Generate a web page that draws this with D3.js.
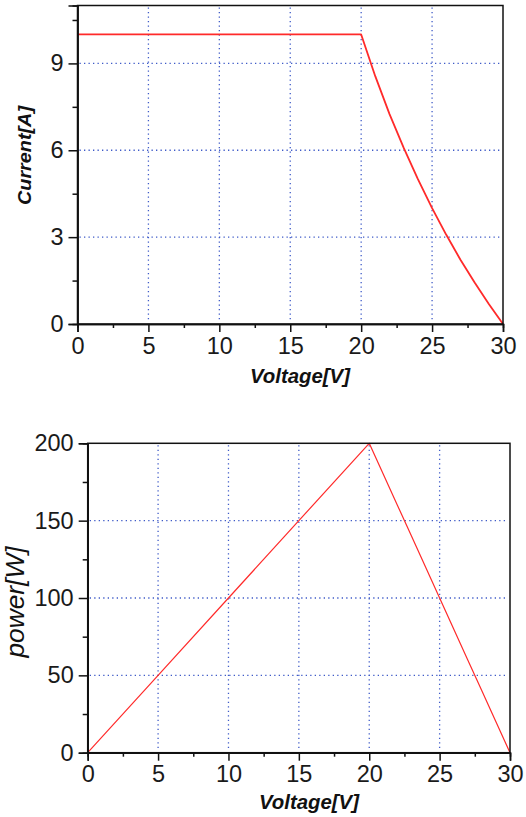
<!DOCTYPE html>
<html><head><meta charset="utf-8">
<script src="https://cdn.jsdelivr.net/npm/d3@7"></script>
<style>
html,body{margin:0;padding:0;background:#fff;}
svg{display:block;}
text{font-family:Arial,"Liberation Sans",sans-serif;}
</style></head>
<body>
<script>
// ---- data ----
const voltage = [0, 5, 10, 15, 20, 21, 22, 23, 24, 25, 26, 27, 28, 29, 30];
const current = [10, 10, 10, 10, 10, 8.55, 7.25, 6.08, 5.0, 4.0, 3.08, 2.22, 1.43, 0.69, 0];
const power   = [0, 50, 100, 150, 200, 180, 160, 140, 120, 100, 80, 60, 40, 20, 0];

const xTicks = [0, 5, 10, 15, 20, 25, 30];
const xMinor = [2.5, 7.5, 12.5, 17.5, 22.5, 27.5];
const currentTicks = [0, 3, 6, 9];
const currentMinor = [1.5, 4.5, 7.5, 10.5];
const powerTicks = [0, 50, 100, 150, 200];
const powerMinor = [25, 75, 125, 175];

const W = 526, H = 817;
const svg = d3.select("body").append("svg").attr("width", W).attr("height", H);

function panel(cfg) {
  const x = d3.scaleLinear().domain([0, 30]).range([cfg.left, cfg.right]);
  const y = d3.scaleLinear().domain(cfg.yDomain).range([cfg.bottom, cfg.top]);
  const g = svg.append("g");

  // grid
  const grid = g.append("g").attr("stroke", "#3f5bc8").attr("stroke-width", 1.3)
    .attr("stroke-dasharray", "1.3,3.2").attr("fill", "none");
  grid.selectAll("line.v").data(xTicks.filter(d => d > 0 && d < 30)).join("line")
    .attr("x1", d => x(d)).attr("x2", d => x(d))
    .attr("y1", y(cfg.yDomain[1]) + 2).attr("y2", y(0) - 2);
  grid.selectAll("line.h").data(cfg.yTicks.filter(d => d > 0 && d < cfg.yDomain[1])).join("line")
    .attr("class","h")
    .attr("x1", x(0) + 2).attr("x2", x(30) - 2)
    .attr("y1", d => y(d)).attr("y2", d => y(d));

  // line
  const line = d3.line().x((d, i) => x(voltage[i])).y(d => y(d));
  g.append("path").datum(cfg.values).attr("d", line)
    .attr("fill", "none").attr("stroke", "#ff2a2a").attr("stroke-width", cfg.lw)
    .attr("stroke-linejoin", "round");

  // frame
  g.append("rect").attr("x", x(0)).attr("y", y(cfg.yDomain[1]))
    .attr("width", x(30) - x(0)).attr("height", y(0) - y(cfg.yDomain[1]))
    .attr("fill", "none").attr("stroke", "#111").attr("stroke-width", 1.5);

  // axes
  g.append("g").attr("transform", `translate(0,${y(0)})`)
    .call(d3.axisBottom(x).tickValues(xTicks).tickSize(8).tickPadding(5).tickFormat(d3.format("d")));
  g.append("g").attr("transform", `translate(0,${y(0)})`)
    .call(d3.axisBottom(x).tickValues(xMinor).tickSize(4).tickFormat(""));
  g.append("g").attr("transform", `translate(${x(0)},0)`)
    .call(d3.axisLeft(y).tickValues(cfg.yTicks).tickSize(9).tickPadding(5).tickFormat(d3.format("d")));
  g.append("g").attr("transform", `translate(${x(0)},0)`)
    .call(d3.axisLeft(y).tickValues(cfg.yMinor).tickSize(5).tickFormat(""));
  g.selectAll(".domain").attr("stroke", "#111").attr("stroke-width", 1.5);
  g.selectAll(".tick line").attr("stroke", "#111").attr("stroke-width", 1.5);
  g.selectAll(".tick text").attr("font-size", 23.5).attr("fill", "#1a1a1a")
    .attr("font-family", "Arial, 'Liberation Sans', sans-serif");

  // titles
  g.append("text").text("Voltage[V]")
    .attr("x", cfg.xTitle[0]).attr("y", cfg.xTitle[1])
    .attr("text-anchor", "middle").attr("font-size", 21)
    .attr("font-weight", "bold").attr("font-style", "italic").attr("fill", "#111")
    .attr("textLength", 100).attr("lengthAdjust", "spacingAndGlyphs");
  g.append("text").text(cfg.yLabel)
    .attr("transform", `translate(${cfg.yTitle[0]},${cfg.yTitle[1]}) rotate(-90)`)
    .attr("text-anchor", "middle").attr("font-size", cfg.yFont)
    .attr("font-weight", cfg.yWeight).attr("font-style", "italic").attr("fill", "#111")
    .attr("textLength", cfg.yLen).attr("lengthAdjust", "spacingAndGlyphs");
}

panel({
  left: 77.5, right: 503, top: 5.5, bottom: 324,
  yDomain: [0, 11], yTicks: currentTicks, yMinor: currentMinor,
  values: current, lw: 1.8,
  xTitle: [300, 383], yTitle: [31, 155.5], yLabel: "Current[A]",
  yFont: 18, yWeight: "bold", yLen: 99
});

panel({
  left: 87.7, right: 510, top: 443.3, bottom: 752.7,
  yDomain: [0, 200], yTicks: powerTicks, yMinor: powerMinor,
  values: power, lw: 1.2,
  xTitle: [309, 809], yTitle: [24, 602], yLabel: "power[W]",
  yFont: 25, yWeight: "normal", yLen: 111
});
</script>
</body></html>
